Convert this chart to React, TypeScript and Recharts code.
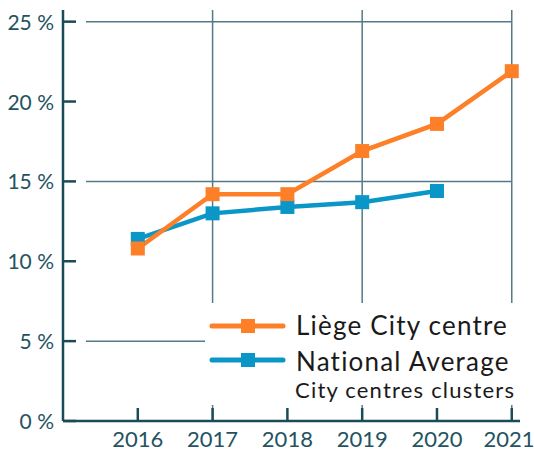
import { CartesianGrid, Legend, Line, LineChart, XAxis, YAxis } from 'recharts'

const YEARS = [2016, 2017, 2018, 2019, 2020, 2021]
const LIEGE = [10.8, 14.2, 14.2, 16.9, 18.6, 21.9]
const NATIONAL = [11.4, 13.0, 13.4, 13.7, 14.4, null]
const Y_TICKS = [0, 5, 10, 15, 20, 25]
const GRID_Y = [5, 15, 25]
const GRID_X = [2017, 2019, 2021]

const SERIES = [
  { key: 'liege', name: 'Liège City centre', sub: '', color: '#fd7f28' },
  { key: 'national', name: 'National Average', sub: 'City centres clusters', color: '#0a96c6' },
]

const AXIS = '#1b4b59'
const GRID = '#557a85'
const LABEL = '#24535f'
const FONT = 'Lato, "Open Sans", sans-serif'

const data = YEARS.map((year, i) => ({ year, liege: LIEGE[i], national: NATIONAL[i] }))

const squareDot = (color: string) => (p: any) => {
  if (p.cx == null || p.cy == null || p.value == null) return <g key={p.key ?? p.index} />
  return <rect key={p.key ?? p.index} x={p.cx - 7} y={p.cy - 7} width={14} height={14} fill={color} />
}

const YTick = (p: any) => (
  <g>
    <line x1={p.x + 9} x2={p.x + 22} y1={p.y} y2={p.y} stroke={AXIS} strokeWidth={2.5} />
    <text x={p.x} y={p.y + 8} textAnchor="end" fontSize={21} fontFamily={FONT} fill={LABEL}>
      {p.payload.value} %
    </text>
  </g>
)

// keep the last label inside the 534px frame
const XTick = (p: any) => (
  <g>
    <line x1={p.x} x2={p.x} y1={p.y - 13} y2={p.y} stroke={AXIS} strokeWidth={2.5} />
    <text x={Math.min(p.x, 509)} y={p.y + 26} textAnchor="middle" fontSize={22} fontFamily={FONT} fill={LABEL}>
      {p.payload.value}
    </text>
  </g>
)

function ChartLegend() {
  return (
    <svg width={320} height={102} style={{ display: 'block' }}>
      {SERIES.map((s, i) => {
        const cy = 23 + i * 34
        return (
          <g key={s.key}>
            <line x1={7} x2={78} y1={cy} y2={cy} stroke={s.color} strokeWidth={5} strokeLinecap="round" />
            <rect x={36} y={cy - 7} width={14} height={14} fill={s.color} />
            <text x={91} y={cy + 9 + i * 2} fontSize={26} letterSpacing={1.2} fontFamily={FONT} fill="#1a1a1a">
              {s.name}
            </text>
            {s.sub && (
              <text x={90} y={cy + 38} fontSize={22} letterSpacing={1.2} fontFamily={FONT} fill="#1a1a1a">
                {s.sub}
              </text>
            )}
          </g>
        )
      })}
    </svg>
  )
}

export default function App() {
  return (
    <div style={{ position: 'absolute', left: 0, top: 0, background: '#fff' }}>
      <LineChart width={534} height={451} data={data} margin={{ top: 10, right: 14, bottom: 0, left: 0 }}>
        <CartesianGrid
          horizontalValues={GRID_Y}
          verticalValues={GRID_X}
          stroke={GRID}
          strokeWidth={1.5}
          horizontal={(p: any) => (
            <line key={p.key} x1={p.x1 + 23} x2={p.x2 - 9} y1={p.y1} y2={p.y2} stroke={GRID} strokeWidth={1.5} />
          )}
        />
        <XAxis
          dataKey="year"
          type="number"
          domain={[2015, 2021.11]}
          ticks={YEARS}
          height={30}
          tickSize={0}
          tickMargin={0}
          tickLine={false}
          axisLine={{ stroke: AXIS, strokeWidth: 2.5 }}
          tick={XTick}
        />
        <YAxis
          type="number"
          domain={[0, 25.73]}
          ticks={Y_TICKS}
          width={63}
          tickSize={0}
          tickMargin={9}
          tickLine={false}
          axisLine={{ stroke: AXIS, strokeWidth: 2.5 }}
          tick={YTick}
        />
        <Legend
          layout="vertical"
          align="center"
          verticalAlign="middle"
          content={() => <ChartLegend />}
          wrapperStyle={{ position: 'absolute', left: 205, top: 303, width: 320, height: 102, background: '#fff' }}
        />
        <Line
          dataKey="national"
          name={SERIES[1].name}
          stroke={SERIES[1].color}
          strokeWidth={4.5}
          dot={squareDot(SERIES[1].color)}
          activeDot={false}
          isAnimationActive={false}
        />
        <Line
          dataKey="liege"
          name={SERIES[0].name}
          stroke={SERIES[0].color}
          strokeWidth={4.5}
          dot={squareDot(SERIES[0].color)}
          activeDot={false}
          isAnimationActive={false}
        />
      </LineChart>
    </div>
  )
}
